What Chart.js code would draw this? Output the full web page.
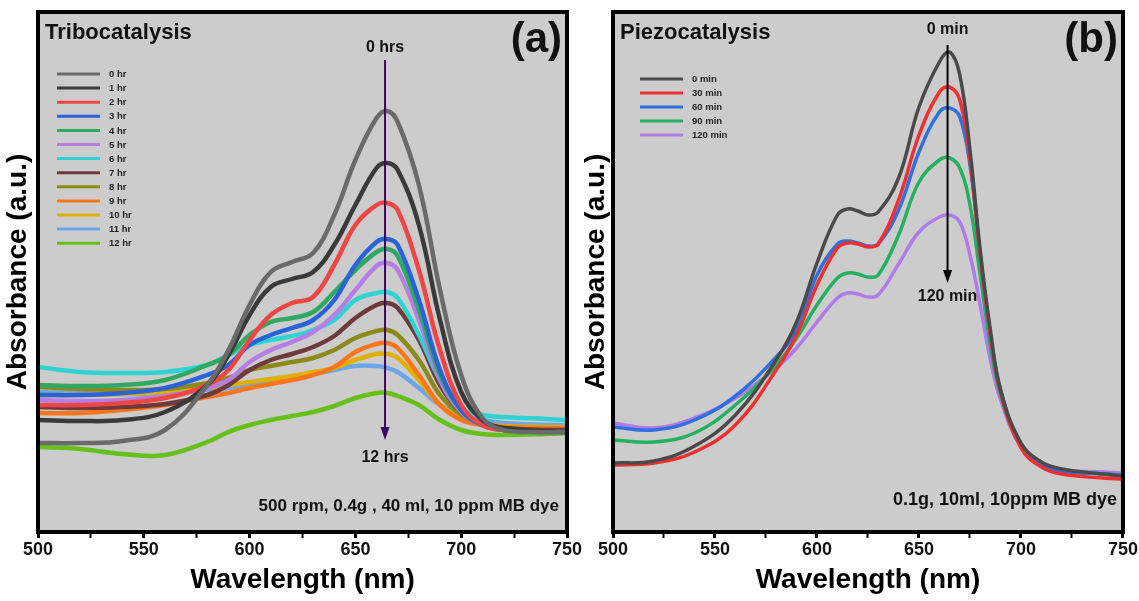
<!DOCTYPE html>
<html>
<head>
<meta charset="utf-8">
<script src="https://cdn.jsdelivr.net/npm/chart.js@4.4.0/dist/chart.umd.min.js"></script>
<style>
  body { margin: 0; background: #fff; width: 1139px; height: 601px; overflow: hidden; position: relative; }
  #chart-a { position: absolute; left: 0; top: 0; }
  #chart-b { position: absolute; left: 578px; top: 0; }
</style>
</head>
<body>
<canvas id="chart-a" width="600" height="601"></canvas>
<canvas id="chart-b" width="561" height="601"></canvas>
<script>
// panel (a) tribocatalysis, absorbance in arbitrary units
var waveA = [500, 520, 540, 560, 580, 590, 600, 610, 620, 630, 640, 650, 660, 665, 670, 680, 690, 700, 710, 720, 740, 750];
var hr0  = [8.9, 8.9, 9.1, 10.2, 14.7, 18.2, 22.7, 26.0, 27.0, 27.9, 31.7, 37.2, 41.4, 42.1, 41.0, 34.7, 24.2, 15.7, 11.4, 10.2, 10.0, 10.0];
var hr1  = [11.2, 11.1, 11.2, 12.0, 14.7, 17.7, 21.7, 24.5, 25.3, 26.0, 28.7, 32.7, 36.4, 36.9, 36.2, 30.7, 21.2, 14.0, 11.2, 10.4, 10.1, 10.0];
var hr2  = [12.7, 12.7, 12.9, 13.4, 14.7, 16.2, 19.2, 21.7, 22.9, 23.5, 26.7, 30.7, 32.7, 32.9, 32.2, 26.2, 18.2, 12.7, 10.7, 10.2, 10.0, 10.0];
var hr3  = [13.7, 13.7, 13.9, 14.4, 15.7, 16.7, 18.7, 19.7, 20.4, 21.2, 23.2, 26.7, 29.0, 29.3, 28.7, 23.2, 16.2, 12.2, 10.7, 10.2, 10.0, 10.0];
var hr4  = [14.7, 14.6, 14.7, 15.2, 16.7, 17.7, 19.7, 21.0, 21.4, 22.0, 24.0, 26.2, 28.0, 28.3, 27.6, 22.2, 15.7, 12.2, 10.7, 10.2, 10.0, 10.0];
var hr5  = [13.2, 13.1, 13.2, 13.6, 14.4, 15.2, 17.0, 18.2, 19.0, 20.0, 21.7, 24.2, 26.6, 26.9, 26.2, 21.2, 15.2, 12.0, 10.7, 10.2, 10.0, 10.0];
var hr6  = [16.5, 16.0, 15.9, 16.0, 16.7, 17.7, 18.7, 19.2, 19.6, 20.2, 21.2, 23.2, 23.9, 24.0, 23.4, 19.7, 15.2, 12.4, 11.7, 11.5, 11.3, 11.2];
var hr7  = [12.5, 12.4, 12.5, 12.8, 13.7, 14.7, 16.2, 17.2, 17.8, 18.5, 19.6, 21.4, 22.7, 22.9, 22.4, 19.2, 14.7, 12.0, 10.8, 10.4, 10.2, 10.2];
var hr8  = [14.5, 14.3, 14.2, 14.3, 14.9, 15.4, 16.2, 16.6, 17.0, 17.4, 18.2, 19.4, 20.1, 20.2, 19.7, 17.2, 13.7, 11.7, 10.8, 10.4, 10.2, 10.2];
var hr9  = [11.9, 11.9, 12.2, 12.7, 13.5, 13.9, 14.4, 14.8, 15.2, 15.7, 16.5, 18.0, 18.8, 18.9, 18.4, 15.7, 12.7, 11.2, 10.7, 10.5, 10.4, 10.4];
var hr10 = [13.7, 13.7, 13.8, 14.0, 14.4, 14.7, 15.0, 15.3, 15.6, 16.0, 16.4, 17.2, 17.8, 17.8, 17.4, 15.2, 12.7, 11.4, 10.8, 10.6, 10.5, 10.5];
var hr11 = [14.0, 13.9, 13.8, 13.8, 14.2, 14.4, 14.7, 15.0, 15.4, 15.8, 16.2, 16.6, 16.6, 16.4, 16.0, 14.4, 12.7, 11.7, 11.2, 10.9, 10.7, 10.7];
var hr12 = [8.5, 8.3, 7.8, 7.7, 9.0, 10.0, 10.7, 11.2, 11.6, 12.0, 12.6, 13.4, 13.9, 13.9, 13.6, 12.7, 11.2, 10.2, 9.8, 9.7, 9.8, 9.9];
var seriesA = [hr0, hr1, hr2, hr3, hr4, hr5, hr6, hr7, hr8, hr9, hr10, hr11, hr12];
var labelsA = ["0 hr", "1 hr", "2 hr", "3 hr", "4 hr", "5 hr", "6 hr", "7 hr", "8 hr", "9 hr", "10 hr", "11 hr", "12 hr"];
var colorsA = ["#6a6a6a", "#3a3a3a", "#f04545", "#2a62d8", "#2fa862", "#b57ee6", "#2fd3d3",
               "#6e3a3a", "#8c8a18", "#ff7518", "#e0b000", "#6aa6e8", "#66c01a"];

// panel (b) piezocatalysis
var waveB = [500, 520, 540, 560, 580, 590, 600, 610, 615, 620, 625, 630, 640, 650, 660, 665, 670, 675, 680, 685, 690, 700, 710, 720, 740, 750];
var min0   = [6.9, 7.1, 8.6, 11.7, 17.2, 21.0, 26.9, 31.7, 32.3, 32.1, 31.7, 32.0, 35.4, 42.5, 47.0, 48.0, 45.7, 38.2, 28.2, 20.2, 14.2, 8.9, 7.0, 6.3, 5.8, 5.6];
var min30  = [6.7, 6.9, 8.0, 10.7, 16.2, 19.7, 24.7, 28.4, 28.9, 28.8, 28.5, 28.8, 33.2, 39.7, 44.0, 44.5, 43.2, 37.2, 27.7, 19.7, 14.0, 8.4, 6.5, 5.8, 5.4, 5.3];
var min60  = [10.5, 10.2, 11.2, 13.6, 17.5, 20.2, 25.7, 28.8, 29.1, 28.9, 28.6, 28.8, 32.2, 38.0, 42.0, 42.4, 41.5, 36.7, 27.7, 19.7, 14.2, 8.7, 6.8, 6.1, 5.8, 5.7];
var min90  = [9.2, 9.0, 9.9, 12.7, 16.7, 19.4, 22.7, 25.4, 25.9, 25.8, 25.5, 25.7, 29.7, 35.0, 37.2, 37.4, 36.4, 32.7, 25.7, 18.7, 13.7, 8.6, 6.7, 6.1, 5.8, 5.7];
var min120 = [10.9, 10.4, 11.4, 13.4, 16.4, 18.4, 21.0, 23.4, 23.9, 23.8, 23.5, 23.7, 26.8, 30.0, 31.5, 31.7, 31.0, 27.7, 22.7, 17.2, 13.2, 8.5, 6.8, 6.2, 6.0, 5.9];
var seriesB = [min0, min30, min60, min90, min120];
var labelsB = ["0 min", "30 min", "60 min", "90 min", "120 min"];
var colorsB = ["#4a4a4a", "#f03030", "#2f6fe0", "#25b060", "#b07ae8"];

var FONT = "'Liberation Sans', Arial, sans-serif";

// gray plot area, thick frame, texts, arrow and small legend
var panelDeco = {
  id: "panelDeco",
  beforeDatasetsDraw: function (chart) {
    var a = chart.chartArea, c = chart.ctx;
    c.save();
    c.fillStyle = "#cccccc";
    c.fillRect(a.left, a.top, a.right - a.left, a.bottom - a.top);
    c.restore();
  },
  afterDatasetsDraw: function (chart, args, o) {
    var a = chart.chartArea, c = chart.ctx;
    var xs = chart.scales.x, ys = chart.scales.y;
    c.save();
    c.strokeStyle = "#000";
    c.lineWidth = 4;
    c.strokeRect(a.left, a.top, a.right - a.left, a.bottom - a.top);

    c.fillStyle = "#111";
    c.textBaseline = "middle";
    c.textAlign = "left";
    c.font = "bold 22px " + FONT;
    c.fillText(o.title, a.left + 7, a.top + 21);
    c.textAlign = "right";
    c.font = "bold 42px " + FONT;
    c.fillText(o.tag, a.right - 5, a.top + 28);
    c.font = "bold " + o.noteSize + "px " + FONT;
    c.fillText(o.note, a.right - o.noteRight, a.bottom - o.noteBottom);

    // arrow
    var ax = xs.getPixelForValue(o.arrowX);
    var y1 = ys.getPixelForValue(o.arrowFrom), y2 = ys.getPixelForValue(o.arrowTo);
    c.strokeStyle = o.arrowColor;
    c.fillStyle = o.arrowColor;
    c.lineWidth = 2;
    c.beginPath(); c.moveTo(ax, y1); c.lineTo(ax, y2 - 8); c.stroke();
    c.beginPath(); c.moveTo(ax - 4.5, y2 - 13); c.lineTo(ax + 4.5, y2 - 13); c.lineTo(ax, y2); c.closePath(); c.fill();

    c.fillStyle = "#111";
    c.textAlign = "center";
    c.font = "bold 16px " + FONT;
    c.fillText(o.startText, ax, ys.getPixelForValue(o.startAt));
    c.fillText(o.endText, ax, ys.getPixelForValue(o.endAt));

    // legend
    c.textAlign = "left";
    c.font = "bold 9.5px " + FONT;
    chart.data.datasets.forEach(function (ds, i) {
      var ly = a.top + o.legendTop + i * o.legendGap;
      var lx = a.left + o.legendLeft;
      c.strokeStyle = ds.borderColor;
      c.lineWidth = 3;
      c.beginPath(); c.moveTo(lx, ly); c.lineTo(lx + 43, ly); c.stroke();
      c.fillStyle = "#222";
      c.fillText(ds.label, lx + 52, ly + 0.5);
    });
    c.restore();
  }
};

function makeDatasets(wave, series, labels, colors, width) {
  return series.map(function (s, i) {
    return {
      label: labels[i],
      data: wave.map(function (w, j) { return { x: w, y: s[j] }; }),
      borderColor: colors[i],
      backgroundColor: colors[i],
      borderWidth: width,
      pointRadius: 0,
      tension: 0.4,
      fill: false
    };
  });
}

function makeScales(yWidth) {
  return {
    x: {
      type: "linear",
      min: 500,
      max: 750,
      ticks: {
        stepSize: 25,
        autoSkip: false,
        maxRotation: 0,
        padding: 1,
        color: "#111",
        font: { family: FONT, size: 18, weight: "bold" },
        callback: function (v) { return v % 50 === 0 ? v : ""; }
      },
      grid: {
        drawOnChartArea: false,
        tickLength: 6,
        tickColor: "#000",
        tickWidth: function (ctx) { return ctx.tick && ctx.tick.value % 50 ? 2 : 3; }
      },
      border: { display: false },
      title: {
        display: true,
        text: "Wavelength (nm)",
        color: "#000",
        font: { family: FONT, size: 28, weight: "bold" },
        padding: { top: 0, bottom: 4 }
      },
      afterFit: function (s) { s.height = 69; }
    },
    y: {
      min: 0,
      max: 52,
      ticks: { display: false },
      grid: { display: false },
      border: { display: false },
      title: {
        display: true,
        text: "Absorbance (a.u.)",
        color: "#000",
        font: { family: FONT, size: 28, weight: "bold" },
        padding: { top: 1, bottom: 0 }
      },
      afterFit: function (s) { s.width = yWidth; }
    }
  };
}

new Chart(document.getElementById("chart-a").getContext("2d"), {
  type: "line",
  data: { datasets: makeDatasets(waveA, seriesA, labelsA, colorsA, 4.5) },
  options: {
    responsive: false,
    animation: false,
    devicePixelRatio: 1,
    layout: { padding: { left: 0, right: 33, top: 12, bottom: 0 } },
    plugins: {
      legend: { display: false },
      tooltip: { enabled: false },
      panelDeco: {
        title: "Tribocatalysis", tag: "(a)",
        note: "500 rpm, 0.4g , 40 ml, 10 ppm MB dye", noteSize: 17, noteRight: 8, noteBottom: 26,
        arrowX: 664, arrowFrom: 47.2, arrowTo: 9.2, arrowColor: "#3b0a5e",
        startText: "0 hrs", startAt: 48.4, endText: "12 hrs", endAt: 7.4,
        legendLeft: 19, legendTop: 62, legendGap: 14.1
      }
    },
    scales: makeScales(38)
  },
  plugins: [panelDeco]
});

new Chart(document.getElementById("chart-b").getContext("2d"), {
  type: "line",
  data: { datasets: makeDatasets(waveB, seriesB, labelsB, colorsB, 3.5) },
  options: {
    responsive: false,
    animation: false,
    devicePixelRatio: 1,
    layout: { padding: { left: 0, right: 16, top: 12, bottom: 0 } },
    plugins: {
      legend: { display: false },
      tooltip: { enabled: false },
      panelDeco: {
        title: "Piezocatalysis", tag: "(b)",
        note: "0.1g, 10ml, 10ppm MB dye", noteSize: 18, noteRight: 6, noteBottom: 32,
        arrowX: 664, arrowFrom: 48.7, arrowTo: 24.9, arrowColor: "#000",
        startText: "0 min", startAt: 50.2, endText: "120 min", endAt: 23.5,
        legendLeft: 27, legendTop: 67, legendGap: 14
      }
    },
    scales: makeScales(35)
  },
  plugins: [panelDeco]
});
</script>
</body>
</html>
